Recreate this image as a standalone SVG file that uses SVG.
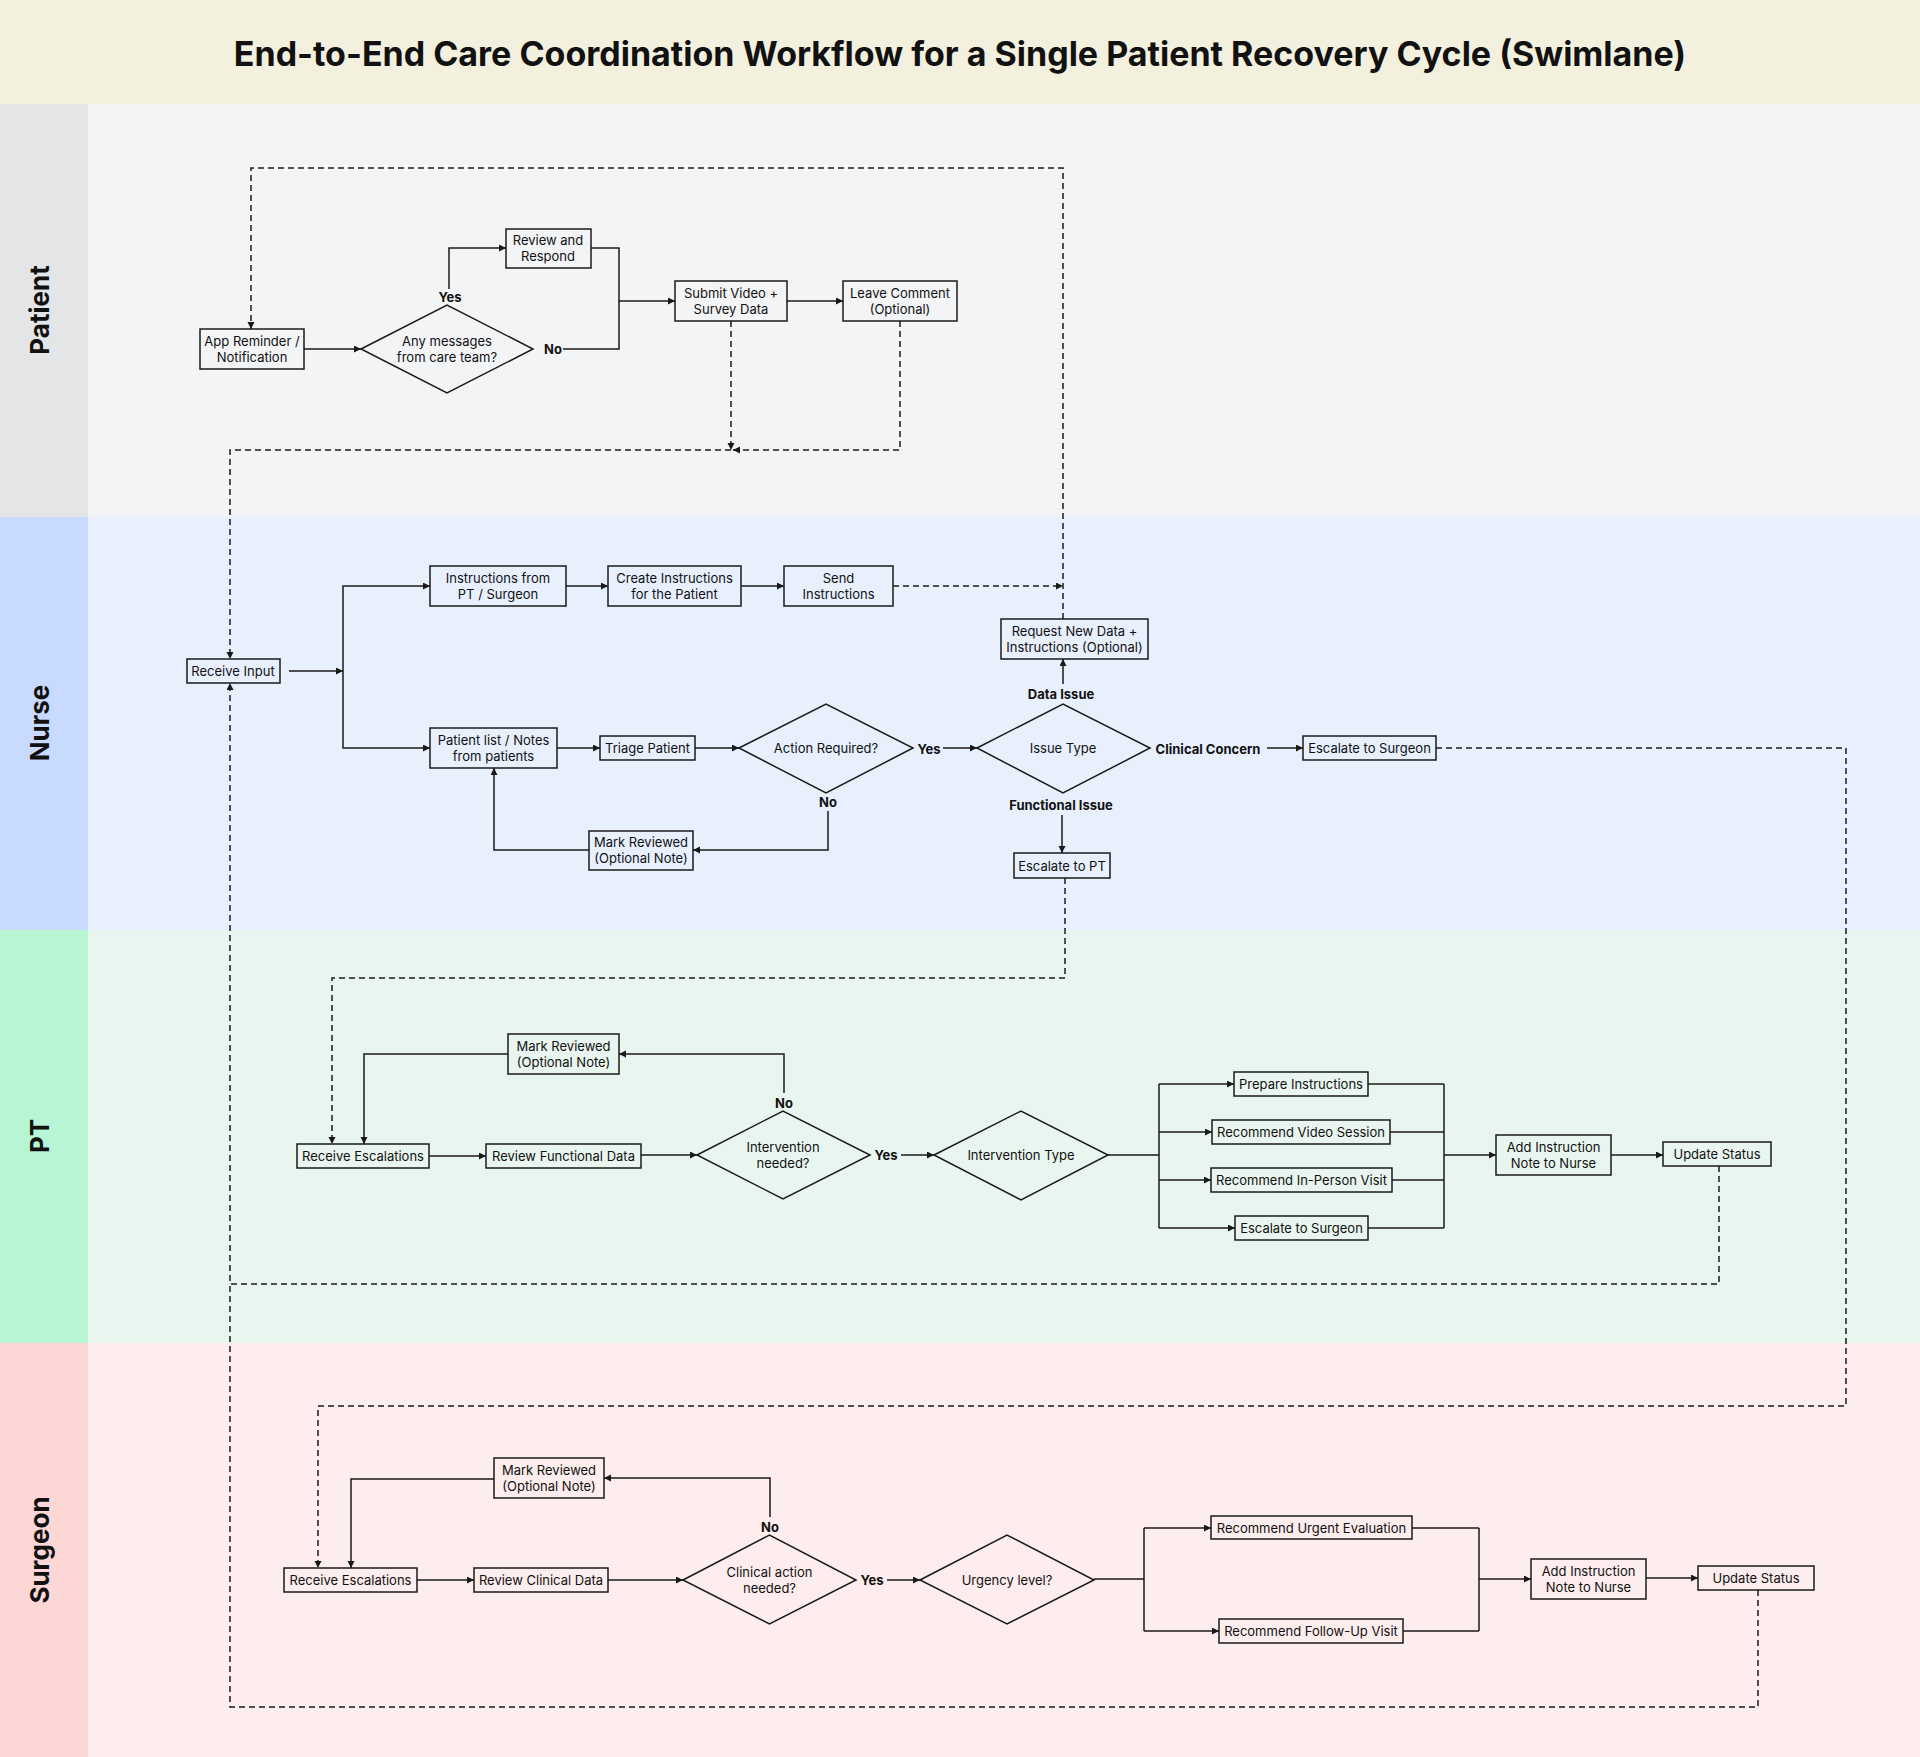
<svg xmlns="http://www.w3.org/2000/svg" width="1920" height="1757" viewBox="0 0 1920 1757">
<style>
.b{fill:none;stroke:#1a1a1a;stroke-width:1.5}
.t{font-family:Inter,"Liberation Sans",sans-serif;font-size:13px;fill:#111;text-anchor:middle;dominant-baseline:central}
.l{font-family:Inter,"Liberation Sans",sans-serif;font-size:13px;font-weight:700;fill:#111;text-anchor:middle;dominant-baseline:central}
.lane{font-family:Inter,"Liberation Sans",sans-serif;font-size:26px;font-weight:700;fill:#111;text-anchor:middle}
.c{fill:none;stroke:#1a1a1a;stroke-width:1.5}
.a{marker-end:url(#ah)}
.d{fill:none;stroke:#1a1a1a;stroke-width:1.5;stroke-dasharray:6 4}
</style>
<defs>
<marker id="ah" markerUnits="userSpaceOnUse" markerWidth="8" markerHeight="8" refX="7" refY="3.5" orient="auto"><path d="M0,0 L7,3.5 L0,7 z" fill="#1a1a1a"/></marker>
</defs>
<g id="background">
<rect x="0" y="0" width="1920" height="104" fill="#f3f0dd"/>
<text x="960" y="53" font-family="Inter,'Liberation Sans',sans-serif" font-size="34" font-weight="700" fill="#111" text-anchor="middle" dominant-baseline="central">End-to-End Care Coordination Workflow for a Single Patient Recovery Cycle (Swimlane)</text>
<rect x="0" y="104" width="88" height="413" fill="#e4e5e7"/>
<rect x="88" y="104" width="1832" height="413" fill="#f3f4f6"/>
<rect x="0" y="517" width="88" height="413" fill="#c8dafd"/>
<rect x="88" y="517" width="1832" height="413" fill="#e8f0fe"/>
<rect x="0" y="930" width="88" height="413" fill="#b8f5d5"/>
<rect x="88" y="930" width="1832" height="413" fill="#e9f6ef"/>
<rect x="0" y="1343" width="88" height="414" fill="#fdd6d6"/>
<rect x="88" y="1343" width="1832" height="414" fill="#fdeded"/>
<text class="lane" transform="translate(49,310) rotate(-90)">Patient</text>
<text class="lane" transform="translate(49,723) rotate(-90)">Nurse</text>
<text class="lane" transform="translate(49,1136) rotate(-90)">PT</text>
<text class="lane" transform="translate(49,1550) rotate(-90)">Surgeon</text>
</g>
<g id="connectors">
<!-- Patient -->
<path class="c a" d="M304 349 H361"/>
<path class="c a" d="M449 289 V248 H506"/>
<path class="c" d="M591 248 H619 V349 H563"/>
<path class="c a" d="M619 301 H675"/>
<path class="c a" d="M787 301 H843"/>
<path class="d a" d="M731 321 V450"/>
<path class="d a" d="M900 321 V450 H733"/>
<path class="d a" d="M731 450 H230 V659"/>
<path class="d a" d="M1063 619 V168 H251 V329"/>
<path class="d a" d="M893 586 H1063"/>
<!-- Nurse -->
<path class="c a" d="M289 671 H343"/>
<path class="c a" d="M343 671 V586 H430"/>
<path class="c a" d="M343 671 V748 H430"/>
<path class="c a" d="M566 586 H608"/>
<path class="c a" d="M741 586 H784"/>
<path class="c a" d="M557 748 H600"/>
<path class="c a" d="M695 748 H739"/>
<path class="c a" d="M828 811 V850 H693"/>
<path class="c a" d="M589 850 H494 V768"/>
<path class="c a" d="M943 748 H977"/>
<path class="c a" d="M1063 684 V659"/>
<path class="c a" d="M1267 748 H1303"/>
<path class="c a" d="M1062 815 V853"/>
<path class="d a" d="M1436 748 H1846 V1406 H318 V1568"/>
<path class="d a" d="M1065 878 V978 H332 V1144"/>
<!-- PT -->
<path class="c a" d="M429 1156 H486"/>
<path class="c a" d="M641 1155 H697"/>
<path class="c a" d="M784 1093 V1054 H619"/>
<path class="c a" d="M508 1054 H364 V1144"/>
<path class="c a" d="M901 1155 H934"/>
<path class="c" d="M1108 1155 H1159 M1159 1084 V1228"/>
<path class="c a" d="M1159 1084 H1234"/>
<path class="c a" d="M1159 1132 H1212"/>
<path class="c a" d="M1159 1180 H1211"/>
<path class="c a" d="M1159 1228 H1235"/>
<path class="c" d="M1368 1084 H1444 M1390 1132 H1444 M1392 1180 H1444 M1368 1228 H1444 M1444 1084 V1228"/>
<path class="c a" d="M1444 1155 H1496"/>
<path class="c a" d="M1611 1155 H1663"/>
<path class="d a" d="M1719 1166 V1284 H230 V683"/>
<!-- Surgeon -->
<path class="c a" d="M417 1580 H474"/>
<path class="c a" d="M608 1580 H683"/>
<path class="c a" d="M770 1517 V1478 H604"/>
<path class="c a" d="M494 1479 H351 V1568"/>
<path class="c a" d="M887 1580 H920"/>
<path class="c" d="M1094 1579 H1144 M1144 1528 V1631"/>
<path class="c a" d="M1144 1528 H1211"/>
<path class="c a" d="M1144 1631 H1219"/>
<path class="c" d="M1412 1528 H1479 M1403 1631 H1479 M1479 1528 V1631"/>
<path class="c a" d="M1479 1579 H1531"/>
<path class="c a" d="M1646 1578 H1698"/>
<path class="d" d="M1758 1590 V1707 H230 V1284"/>
<!-- labels -->
<text class="l" x="450" y="297">Yes</text>
<text class="l" x="553" y="349">No</text>
<text class="l" x="828" y="802">No</text>
<text class="l" x="929" y="749">Yes</text>
<text class="l" x="1061" y="694">Data Issue</text>
<text class="l" x="1208" y="749">Clinical Concern</text>
<text class="l" x="1061" y="805">Functional Issue</text>
<text class="l" x="784" y="1103">No</text>
<text class="l" x="886" y="1155">Yes</text>
<text class="l" x="770" y="1527">No</text>
<text class="l" x="872" y="1580">Yes</text>
</g>
<g id="n_app_reminder"><rect class="b" x="200" y="329" width="104" height="40"/><text class="t" x="252" y="341">App Reminder /</text><text class="t" x="252" y="357">Notification</text></g>
<g id="n_any_messages"><path class="b" d="M361 349 L447 305 L533 349 L447 393 Z"/><text class="t" x="447" y="341">Any messages</text><text class="t" x="447" y="357">from care team?</text></g>
<g id="n_review_respond"><rect class="b" x="506" y="229" width="85" height="39"/><text class="t" x="548" y="240">Review and</text><text class="t" x="548" y="256">Respond</text></g>
<g id="n_submit_video"><rect class="b" x="675" y="281" width="112" height="40"/><text class="t" x="731" y="293">Submit Video +</text><text class="t" x="731" y="309">Survey Data</text></g>
<g id="n_leave_comment"><rect class="b" x="843" y="281" width="114" height="40"/><text class="t" x="900" y="293">Leave Comment</text><text class="t" x="900" y="309">(Optional)</text></g>
<g id="n_receive_input"><rect class="b" x="187" y="659" width="93" height="24"/><text class="t" x="233" y="671">Receive Input</text></g>
<g id="n_instructions_from"><rect class="b" x="430" y="566" width="136" height="40"/><text class="t" x="498" y="578">Instructions from</text><text class="t" x="498" y="594">PT / Surgeon</text></g>
<g id="n_create_instructions"><rect class="b" x="608" y="566" width="133" height="40"/><text class="t" x="674.5" y="578">Create Instructions</text><text class="t" x="674.5" y="594">for the Patient</text></g>
<g id="n_send_instructions"><rect class="b" x="784" y="566" width="109" height="40"/><text class="t" x="838.5" y="578">Send</text><text class="t" x="838.5" y="594">Instructions</text></g>
<g id="n_request_new_data"><rect class="b" x="1001" y="619" width="147" height="40"/><text class="t" x="1074.5" y="631">Request New Data +</text><text class="t" x="1074.5" y="647">Instructions (Optional)</text></g>
<g id="n_patient_list"><rect class="b" x="430" y="728" width="127" height="40"/><text class="t" x="493.5" y="740">Patient list / Notes</text><text class="t" x="493.5" y="756">from patients</text></g>
<g id="n_triage"><rect class="b" x="600" y="736" width="95" height="24"/><text class="t" x="647.5" y="748">Triage Patient</text></g>
<g id="n_action_required"><path class="b" d="M739 748 L826 704 L913 748 L826 793 Z"/><text class="t" x="826" y="748">Action Required?</text></g>
<g id="n_mark_reviewed_nurse"><rect class="b" x="589" y="831" width="104" height="39"/><text class="t" x="641" y="842">Mark Reviewed</text><text class="t" x="641" y="858">(Optional Note)</text></g>
<g id="n_issue_type"><path class="b" d="M977 748 L1063 704 L1150 748 L1063 793 Z"/><text class="t" x="1063" y="748">Issue Type</text></g>
<g id="n_escalate_surgeon_nurse"><rect class="b" x="1303" y="736" width="133" height="24"/><text class="t" x="1369.5" y="748">Escalate to Surgeon</text></g>
<g id="n_escalate_pt"><rect class="b" x="1014" y="853" width="96" height="25"/><text class="t" x="1062" y="865.5">Escalate to PT</text></g>
<g id="n_pt_receive"><rect class="b" x="297" y="1144" width="132" height="24"/><text class="t" x="363" y="1156">Receive Escalations</text></g>
<g id="n_pt_mark_reviewed"><rect class="b" x="508" y="1034" width="111" height="40"/><text class="t" x="563.5" y="1046">Mark Reviewed</text><text class="t" x="563.5" y="1062">(Optional Note)</text></g>
<g id="n_review_functional"><rect class="b" x="486" y="1144" width="155" height="24"/><text class="t" x="563.5" y="1156">Review Functional Data</text></g>
<g id="n_intervention_needed"><path class="b" d="M697 1155 L783 1111 L870 1155 L783 1199 Z"/><text class="t" x="783" y="1147">Intervention</text><text class="t" x="783" y="1163">needed?</text></g>
<g id="n_intervention_type"><path class="b" d="M934 1155 L1021 1111 L1108 1155 L1021 1200 Z"/><text class="t" x="1021" y="1155">Intervention Type</text></g>
<g id="n_prepare_instructions"><rect class="b" x="1234" y="1072" width="134" height="24"/><text class="t" x="1301" y="1084">Prepare Instructions</text></g>
<g id="n_video_session"><rect class="b" x="1212" y="1120" width="178" height="24"/><text class="t" x="1301" y="1132">Recommend Video Session</text></g>
<g id="n_in_person"><rect class="b" x="1211" y="1168" width="181" height="24"/><text class="t" x="1301.5" y="1180">Recommend In-Person Visit</text></g>
<g id="n_pt_escalate_surgeon"><rect class="b" x="1235" y="1216" width="133" height="24"/><text class="t" x="1301.5" y="1228">Escalate to Surgeon</text></g>
<g id="n_pt_add_note"><rect class="b" x="1496" y="1135" width="115" height="40"/><text class="t" x="1553.5" y="1147">Add Instruction</text><text class="t" x="1553.5" y="1163">Note to Nurse</text></g>
<g id="n_pt_update"><rect class="b" x="1663" y="1142" width="108" height="24"/><text class="t" x="1717" y="1154">Update Status</text></g>
<g id="n_s_receive"><rect class="b" x="284" y="1568" width="133" height="24"/><text class="t" x="350.5" y="1580">Receive Escalations</text></g>
<g id="n_s_mark_reviewed"><rect class="b" x="494" y="1458" width="110" height="40"/><text class="t" x="549" y="1470">Mark Reviewed</text><text class="t" x="549" y="1486">(Optional Note)</text></g>
<g id="n_review_clinical"><rect class="b" x="474" y="1568" width="134" height="24"/><text class="t" x="541" y="1580">Review Clinical Data</text></g>
<g id="n_clinical_action"><path class="b" d="M683 1580 L769.5 1535 L856 1580 L769.5 1624 Z"/><text class="t" x="769.5" y="1572">Clinical action</text><text class="t" x="769.5" y="1588">needed?</text></g>
<g id="n_urgency"><path class="b" d="M920 1580 L1007 1535 L1094 1580 L1007 1624 Z"/><text class="t" x="1007" y="1580">Urgency level?</text></g>
<g id="n_urgent_eval"><rect class="b" x="1211" y="1516" width="201" height="23"/><text class="t" x="1311.5" y="1527.5">Recommend Urgent Evaluation</text></g>
<g id="n_follow_up"><rect class="b" x="1219" y="1619" width="184" height="24"/><text class="t" x="1311" y="1631">Recommend Follow-Up Visit</text></g>
<g id="n_s_add_note"><rect class="b" x="1531" y="1559" width="115" height="40"/><text class="t" x="1588.5" y="1571">Add Instruction</text><text class="t" x="1588.5" y="1587">Note to Nurse</text></g>
<g id="n_s_update"><rect class="b" x="1698" y="1566" width="116" height="24"/><text class="t" x="1756" y="1578">Update Status</text></g>
</svg>
